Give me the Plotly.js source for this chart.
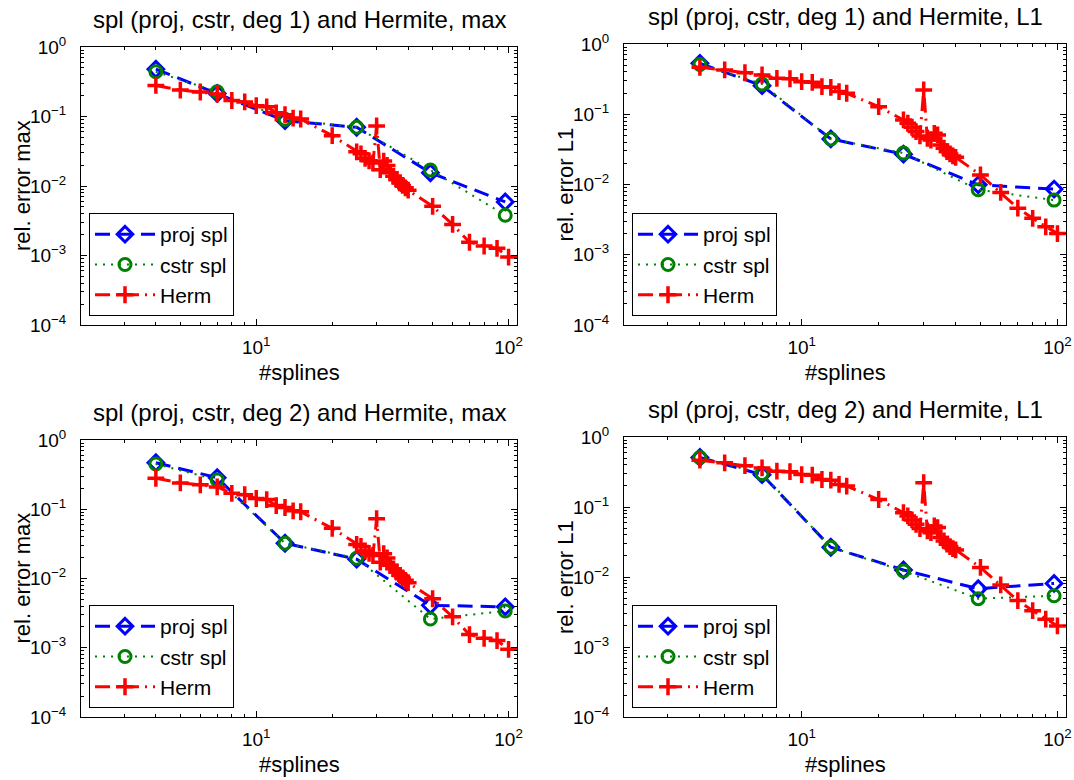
<!DOCTYPE html>
<html>
<head>
<meta charset="utf-8">
<script src="https://cdn.plot.ly/plotly-3.0.1.min.js"></script>
<style>html,body{margin:0;padding:0;background:#fff;}#chart{width:1074px;height:780px;}</style>
</head>
<body>
<div id="chart"></div>
<script>
// ---- data ----
const nSplines = [4, 7, 13, 25, 49, 97];
const nHerm = [4,5,6,7,8,9,10,11,12,13,14,15,20,25,26,27,28,29,30,31,32,33,34,35,36,37,38,39,40,50,60,70,80,90,100];

const projMaxDeg1 = [0.48, 0.215, 0.087, 0.070, 0.0155, 0.0059];
const cstrMaxDeg1 = [0.44, 0.227, 0.091, 0.070, 0.0170, 0.0038];
const projL1Deg1  = [0.53, 0.255, 0.0445, 0.027, 0.0099, 0.0086];
const cstrL1Deg1  = [0.51, 0.270, 0.0445, 0.028, 0.0084, 0.0060];
const projMaxDeg2 = [0.47, 0.285, 0.0323, 0.0190, 0.0041, 0.0039];
const cstrMaxDeg2 = [0.45, 0.265, 0.0323, 0.0196, 0.0026, 0.0034];
const projL1Deg2  = [0.51, 0.290, 0.0266, 0.0126, 0.0068, 0.0081];
const cstrL1Deg2  = [0.51, 0.300, 0.0266, 0.0122, 0.0049, 0.0054];

const hermMax = [0.28,0.24,0.225,0.21,0.17,0.162,0.143,0.138,0.113,0.106,0.095,0.092,0.053,
  0.031,0.029,0.025,0.023,0.0215,0.073,0.0172,0.0228,0.0198,0.0155,0.0138,0.0124,0.0111,0.0102,0.0094,0.0087,
  0.0051,0.0028,0.00155,0.00137,0.00127,0.00095];
const hermL1 = [0.466,0.427,0.39,0.362,0.325,0.32,0.291,0.285,0.247,0.242,0.21,0.199,0.128,
  0.083,0.0745,0.0653,0.0566,0.0491,0.222,0.0455,0.043,0.0536,0.0508,0.0366,0.0328,0.0294,0.0272,0.0255,0.0244,
  0.0137,0.0077,0.0046,0.0033,0.0025,0.0020];

const titles = [
  'spl (proj, cstr, deg 1) and Hermite, max',
  'spl (proj, cstr, deg 1) and Hermite, L1',
  'spl (proj, cstr, deg 2) and Hermite, max',
  'spl (proj, cstr, deg 2) and Hermite, L1'
];
const yLabels = ['rel. error max', 'rel. error L1', 'rel. error max', 'rel. error L1'];
const xLabel = '#splines';
const seriesNames = ['proj spl', 'cstr spl', 'Herm'];
const yTickVals = [1e-4, 1e-3, 1e-2, 1e-1, 1];
const yTickText = ['10<sup>−4</sup>', '10<sup>−3</sup>', '10<sup>−2</sup>', '10<sup>−1</sup>', '10<sup>0</sup>'];
const xTickVals = [10, 100];
const xTickText = ['10<sup>1</sup>', '10<sup>2</sup>'];

const panelData = [
  {proj: projMaxDeg1, cstr: cstrMaxDeg1, herm: hermMax},
  {proj: projL1Deg1,  cstr: cstrL1Deg1,  herm: hermL1},
  {proj: projMaxDeg2, cstr: cstrMaxDeg2, herm: hermMax},
  {proj: projL1Deg2,  cstr: cstrL1Deg2,  herm: hermL1}
];

// ---- layout geometry (pixels) ----
const W = 1074, H = 780;
const boxes = [
  {l: 81,  r: 517,  t: 47,  b: 325},
  {l: 624, r: 1066, t: 44,  b: 325},
  {l: 81,  r: 517,  t: 440, b: 717},
  {l: 624, r: 1066, t: 437, b: 717}
];
const FONT = 'Liberation Sans, Arial, Helvetica, sans-serif';

const traces = [];
const layout = {
  width: W, height: H,
  margin: {l: 0, r: 0, t: 0, b: 0},
  paper_bgcolor: 'white', plot_bgcolor: 'white',
  font: {family: FONT, color: 'black', size: 18},
  showlegend: true,
  annotations: []
};

boxes.forEach((bx, i) => {
  const k = i === 0 ? '' : String(i + 1);
  const xa = 'x' + k, ya = 'y' + k;
  const legName = 'legend' + k;
  const d = panelData[i];
  traces.push({
    x: nSplines, y: d.proj, xaxis: xa, yaxis: ya, legend: legName,
    name: seriesNames[0], type: 'scatter', mode: 'lines+markers',
    line: {color: 'rgb(0,0,255)', width: 3, dash: '15px,8px'},
    marker: {symbol: 'diamond-open', size: 12, color: 'rgb(0,0,255)', line: {width: 3, color: 'rgb(0,0,255)'}}
  });
  traces.push({
    x: nSplines, y: d.cstr, xaxis: xa, yaxis: ya, legend: legName,
    name: seriesNames[1], type: 'scatter', mode: 'lines+markers',
    line: {color: 'rgb(0,128,0)', width: 2, dash: '2px,6px'},
    marker: {symbol: 'circle-open', size: 12, color: 'rgb(0,128,0)', line: {width: 3, color: 'rgb(0,128,0)'}}
  });
  traces.push({
    x: nHerm, y: d.herm, xaxis: xa, yaxis: ya, legend: legName,
    name: seriesNames[2], type: 'scatter', mode: 'lines+markers',
    line: {color: 'rgb(255,0,0)', width: 3, dash: '15px,6px,2px,6px'},
    marker: {symbol: 'cross-thin-open', size: 12, color: 'rgb(255,0,0)', line: {width: 3.5, color: 'rgb(255,0,0)'}}
  });

  const axCommon = {
    type: 'log', showgrid: false, zeroline: false,
    showline: true, linecolor: 'black', linewidth: 1, mirror: 'allticks',
    ticks: 'inside', ticklen: 6, tickcolor: 'black', tickwidth: 1,
    tickmode: 'array',
    minor: {ticks: 'inside', ticklen: 3, tickcolor: 'black', tickwidth: 1, dtick: 'D1', showgrid: false},
    tickfont: {family: FONT, size: 19, color: 'black'},
    fixedrange: true
  };
  layout['xaxis' + k] = Object.assign({}, axCommon, {
    domain: [bx.l / W, bx.r / W], anchor: ya,
    range: [Math.log10(2.02), Math.log10(108)],
    tickvals: xTickVals, ticktext: xTickText, ticklabelstandoff: 5
  });
  layout['yaxis' + k] = Object.assign({}, axCommon, {
    domain: [1 - bx.b / H, 1 - bx.t / H], anchor: xa,
    range: [-4, 0],
    tickvals: yTickVals, ticktext: yTickText, ticklabelstandoff: 10
  });
  layout[legName] = {
    x: (bx.l + 8) / W, y: 1 - (bx.b - 9) / H, xanchor: 'left', yanchor: 'bottom',
    bgcolor: 'white', bordercolor: 'black', borderwidth: 1,
    font: {family: FONT, size: 21, color: 'black'},
    itemwidth: 60, tracegroupgap: 0, traceorder: 'normal'
  };
  const cx = (bx.l + bx.r) / 2;
  layout.annotations.push({
    text: titles[i], xref: 'paper', yref: 'paper', x: cx / W, y: 1 - (bx.t - 28) / H,
    xanchor: 'center', yanchor: 'middle', showarrow: false,
    font: {family: FONT, size: 24, color: 'black'}
  });
  layout.annotations.push({
    text: xLabel, xref: 'paper', yref: 'paper', x: cx / W, y: 1 - (bx.b + 47) / H,
    xanchor: 'center', yanchor: 'middle', showarrow: false,
    font: {family: FONT, size: 22, color: 'black'}
  });
  layout.annotations.push({
    text: yLabels[i], xref: 'paper', yref: 'paper', x: (bx.l - 59) / W, y: 1 - ((bx.t + bx.b) / 2) / H,
    xanchor: 'center', yanchor: 'middle', showarrow: false, textangle: -90,
    font: {family: FONT, size: 22, color: 'black'}
  });
});

Plotly.newPlot('chart', traces, layout, {staticPlot: true, displayModeBar: false});
</script>
</body>
</html>
